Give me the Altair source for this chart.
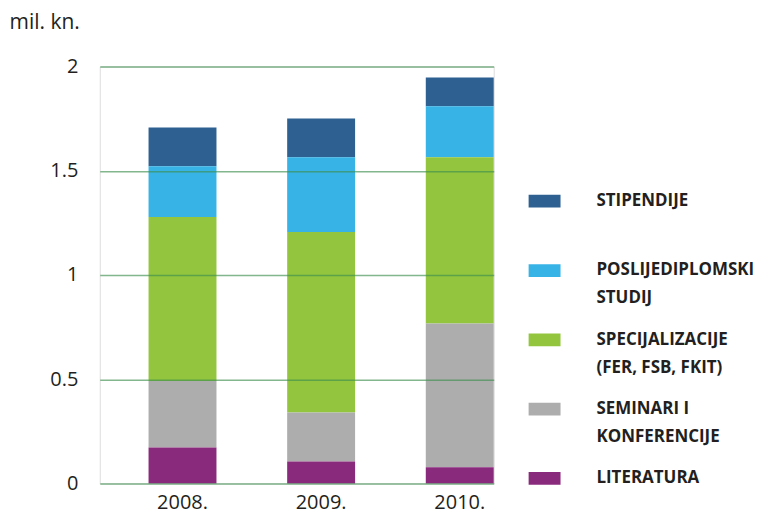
import altair as alt
import pandas as pd

years = ["2008.", "2009.", "2010."]
categories = [
    "STIPENDIJE",
    "POSLIJEDIPLOMSKI\nSTUDIJ",
    "SPECIJALIZACIJE\n(FER, FSB, FKIT)",
    "SEMINARI I\nKONFERENCIJE",
    "LITERATURA",
]
colors = ["#2e6092", "#38b3e6", "#93c63e", "#adadad", "#8a2a7c"]

stipendije = [0.186, 0.186, 0.138]
poslijediplomski = [0.244, 0.359, 0.244]
specijalizacije = [0.787, 0.866, 0.798]
seminari = [0.319, 0.235, 0.690]
literatura = [0.172, 0.105, 0.077]

tick_values = [0, 0.5, 1, 1.5, 2]

series = [stipendije, poslijediplomski, specijalizacije, seminari, literatura]
rows = []
for ci, (cat, vals) in enumerate(zip(categories, series)):
    for yr, v in zip(years, vals):
        rows.append({"godina": yr, "kategorija": cat, "iznos": v, "red": ci})
df = pd.DataFrame(rows)

FONT = "Open Sans"
TXT = "#231f20"

chart = alt.Chart(df).mark_bar().encode(
    x=alt.X(
        "godina:N",
        sort=years,
        scale=alt.Scale(paddingInner=0.51, paddingOuter=0.176, align=1),
        axis=alt.Axis(
            title=None, labelAngle=0, domain=False, ticks=False,
            labelPadding=9, labelFontSize=20, labelFont=FONT, labelColor=TXT,
        ),
    ),
    y=alt.Y(
        "iznos:Q",
        stack="zero",
        scale=alt.Scale(domain=[0, 2]),
        axis=alt.Axis(
            values=tick_values, format="~g",
            title="mil. kn.", titleAngle=0, titleAlign="left", titleBaseline="middle",
            titleX=-91, titleY=-44, titleFont=FONT, titleFontSize=21,
            titleFontWeight="normal", titleColor=TXT,
            domain=False, ticks=False, labelPadding=22, labelFontSize=20,
            labelFont=FONT, labelColor=TXT,
            grid=True, gridColor="#3f8f4f", gridOpacity=0.65, gridWidth=1.5,
            zindex=1,
        ),
    ),
    color=alt.Color(
        "kategorija:N",
        sort=categories,
        scale=alt.Scale(domain=categories, range=colors),
        legend=alt.Legend(
            title=None, orient="none", legendX=430, legendY=124,
            direction="vertical",
            symbolType="M-1,-0.71H1V0.09H-1Z", symbolSize=1024,
            symbolStrokeWidth=0, symbolOpacity=1,
            labelExpr="datum.label == 'STIPENDIJE' ? ['STIPENDIJE', ' '] : split(datum.label, '\\n')",
            labelFont=FONT, labelFontSize=17, labelFontWeight="bold",
            labelColor=TXT, labelBaseline="alphabetic", labelOffset=36,
            labelLimit=300, rowPadding=22.5,
        ),
    ),
    order=alt.Order("red:Q", sort="descending"),
).properties(
    width=395,
    height=418,
    padding={"left": 92, "top": 58, "right": 268, "bottom": 32},
    autosize=alt.AutoSizeParams(type="none"),
).configure_view(stroke=None).configure(
    style={"guide-label": {"lineHeight": 28}}
)

chart.save("out.html", embed_options={"renderer": "svg", "actions": False})
